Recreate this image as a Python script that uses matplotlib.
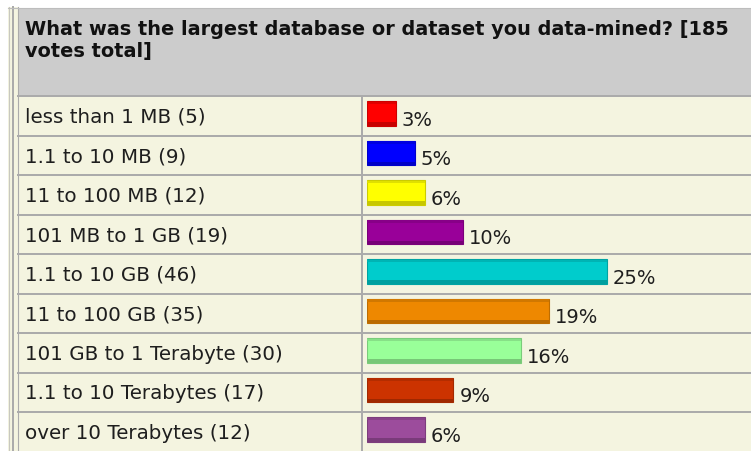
import matplotlib
matplotlib.use("Agg")
import matplotlib.pyplot as plt
import matplotlib.colors as mcolors

# ---- data ----
title_lines = ["What was the largest database or dataset you data-mined? [185", "votes total]"]
categories = ["less than 1 MB", "1.1 to 10 MB", "11 to 100 MB", "101 MB to 1 GB",
              "1.1 to 10 GB", "11 to 100 GB", "101 GB to 1 Terabyte",
              "1.1 to 10 Terabytes", "over 10 Terabytes"]
votes = [5, 9, 12, 19, 46, 35, 30, 17, 12]
percents = [3, 5, 6, 10, 25, 19, 16, 9, 6]
bar_colors = ["#FF0000", "#0000FF", "#FFFF00", "#990099", "#00CCCC",
              "#EE8800", "#99FF99", "#CC3300", "#9C4C9C"]

# ---- style ----
W, H = 751, 452
cream = "#F4F4E0"
header_gray = "#CCCCCC"
grid_gray = "#ABABAB"
row_top0 = 97.0
row_h = 39.5
col_x = 361.5
bar_x0 = 367.0
px_per_pct = 9.6
lw2 = 2 * 72 / 100  # 2px in points

fig = plt.figure(figsize=(W / 100, H / 100), dpi=100)
fig.patch.set_facecolor("white")

bg = fig.add_axes([0, 0, 1, 1])
bg.set_xlim(0, W)
bg.set_ylim(H, 0)
bg.axis("off")

# left double border strip
bg.fill_between([8, 17.5], 8, H, color=cream, lw=0)
bg.plot([8.5, 8.5], [8, H], color="#C8C8C0", lw=0.8)
bg.plot([13, 13], [8, H], color=grid_gray, lw=lw2)
bg.plot([17.5, 17.5], [8, H], color=grid_gray, lw=0.8)

# header
bg.fill_between([17.5, W], 8.5, row_top0, color=header_gray, lw=0)
bg.plot([8, W], [8.5, 8.5], color="#BDBDBD", lw=0.8)
for k, line in enumerate(title_lines):
    bg.text(25, 29.5 + 21.5 * k, line, fontsize=13.9, fontweight="bold",
            family="DejaVu Sans", color="#111111",
            ha="left", va="center")

# table body
n = len(categories)
bg.fill_between([17.5, W], row_top0, H, color=cream, lw=0)
for i in range(n):
    y = row_top0 + row_h * i
    bg.plot([17.5, W], [y, y], color=grid_gray, lw=lw2)
    bg.text(25, y + row_h / 2 + 0.5, f"{categories[i]} ({votes[i]})", fontsize=14.3,
            family="DejaVu Sans", color="#1E1E1E", ha="left", va="center")
bg.plot([col_x, col_x], [row_top0, H], color=grid_gray, lw=lw2)

# bar axes: x in percent units, y in row units
ax_top_px = row_top0
ax = fig.add_axes([bar_x0 / W, 0, 1 - bar_x0 / W, (H - ax_top_px) / H])
ax.set_xlim(0, (W - bar_x0) / px_per_pct)
ax.set_ylim((H - ax_top_px) / row_h - 0.5, -0.5)
ax.axis("off")
ax.patch.set_alpha(0)

bar_h = 24.5 / row_h
centers = [i - 0.5 + 17.5 / row_h for i in range(n)]


def shade(c, f):
    r, g, b = mcolors.to_rgb(c)
    if f < 1:
        return (r * f, g * f, b * f)
    return (r + (1 - r) * (f - 1), g + (1 - g) * (f - 1), b + (1 - b) * (f - 1))


ax.barh(centers, percents, height=bar_h, left=0, color=bar_colors,
        edgecolor=[shade(c, 0.8) for c in bar_colors], linewidth=0.8)
# bottom dark band and top highlight to mimic the 3D look
strip = 3.5 / row_h
ax.barh([c + bar_h / 2 - strip / 2 for c in centers], percents, height=strip,
        color=[shade(c, 0.78) for c in bar_colors], linewidth=0)
ax.barh([c - bar_h / 2 + 1.5 / row_h for c in centers], percents, height=2.5 / row_h,
        color=[shade(c, 0.88) for c in bar_colors], linewidth=0)

for i in range(n):
    ax.annotate(f"{percents[i]}%", xy=(percents[i], centers[i]),
                xytext=(4.3, -4.3), textcoords="offset points",
                fontsize=14, family="DejaVu Sans", color="#1E1E1E",
                ha="left", va="center")

fig.savefig("out.png", dpi=100, facecolor="white")
